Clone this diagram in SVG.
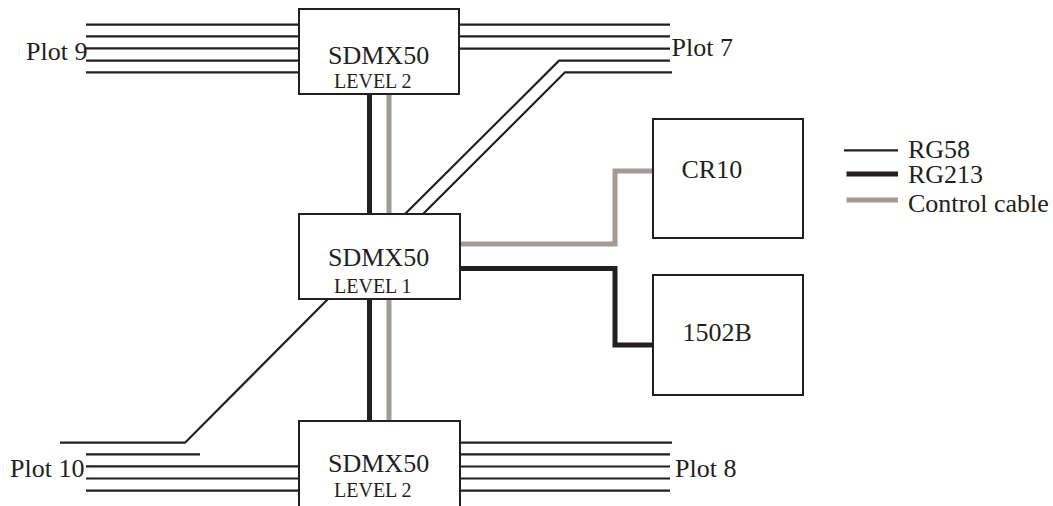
<svg xmlns="http://www.w3.org/2000/svg" width="1053" height="506" viewBox="0 0 1053 506">
<style>
.box{fill:#fff;stroke:#231f20;stroke-width:2}
.thin{fill:none;stroke:#231f20;stroke-width:2.2}
.thick{fill:none;stroke:#231f20;stroke-width:5}
.ctrl{fill:none;stroke:#a39a96;stroke-width:5}
.t{font-family:"Liberation Serif","Times New Roman",serif;font-size:26px;fill:#231f20}
.s{font-family:"Liberation Serif","Times New Roman",serif;font-size:20px;fill:#231f20}
</style>
<rect width="1053" height="506" fill="#fff"/>
<g id="connectors">
<!-- top-left plot 9 -->
<path class="thin" d="M86 24.7H299M86 36.3H299M86 48.3H299M86 60.7H299M86 72.3H299"/>
<!-- top-right plot 7 -->
<path class="thin" d="M459 24.7H670M459 36.3H670M459 48.7H670"/>
<path class="thin" d="M405 214L559 60.7H670M423 214L565 72.3H672"/>
<!-- top box to middle -->
<path class="thick" d="M369.5 94V214M369.5 299V421"/>
<path class="ctrl" d="M389 94V214M389 299V421"/>
<!-- bottom left plot 10 -->
<path class="thin" d="M328 299L185 442.7H60M86 454.3H200"/>
<path class="thin" d="M86 466.3H299M86 478.5H299M86 490.7H299"/>
<!-- bottom right plot 8 -->
<path class="thin" d="M460 442.7H672M460 454.3H670M460 466.5H670M460 478.5H670M460 490.7H670"/>
<!-- to CR10 and 1502B -->
<path class="ctrl" d="M460 244H615V171H653"/>
<path class="thick" d="M460 268.5H615V345H653"/>
</g>
<g id="node-top">
<rect class="box" x="299" y="9" width="160" height="85"/>
<text class="t" x="328" y="64">SDMX50</text>
<text class="s" x="334" y="87.7">LEVEL 2</text>
</g>
<g id="node-middle">
<rect class="box" x="299" y="214" width="161" height="85"/>
<text class="t" x="328" y="266">SDMX50</text>
<text class="s" x="334" y="292.7">LEVEL 1</text>
</g>
<g id="node-bottom">
<rect class="box" x="299" y="421" width="161" height="100"/>
<text class="t" x="328" y="471.7">SDMX50</text>
<text class="s" x="334" y="497">LEVEL 2</text>
</g>
<g id="node-cr10">
<rect class="box" x="653" y="119" width="150" height="119"/>
<text class="t" x="681.5" y="178.3">CR10</text>
</g>
<g id="node-1502b">
<rect class="box" x="653" y="275" width="150" height="120"/>
<text class="t" x="682.5" y="340.7">1502B</text>
</g>
<g id="labels">
<text class="t" x="26" y="60">Plot 9</text>
<text class="t" x="671.5" y="56">Plot 7</text>
<text class="t" x="10" y="477">Plot 10</text>
<text class="t" x="675" y="476.7">Plot 8</text>
</g>
<g id="legend">
<path class="thin" d="M844 150.3H898"/>
<path class="thick" d="M846.5 174H898"/>
<path class="ctrl" d="M846.5 200H898"/>
<text class="t" x="908" y="157.7">RG58</text>
<text class="t" x="908" y="182.7">RG213</text>
<text class="t" x="908" y="212">Control cable</text>
</g>
</svg>
